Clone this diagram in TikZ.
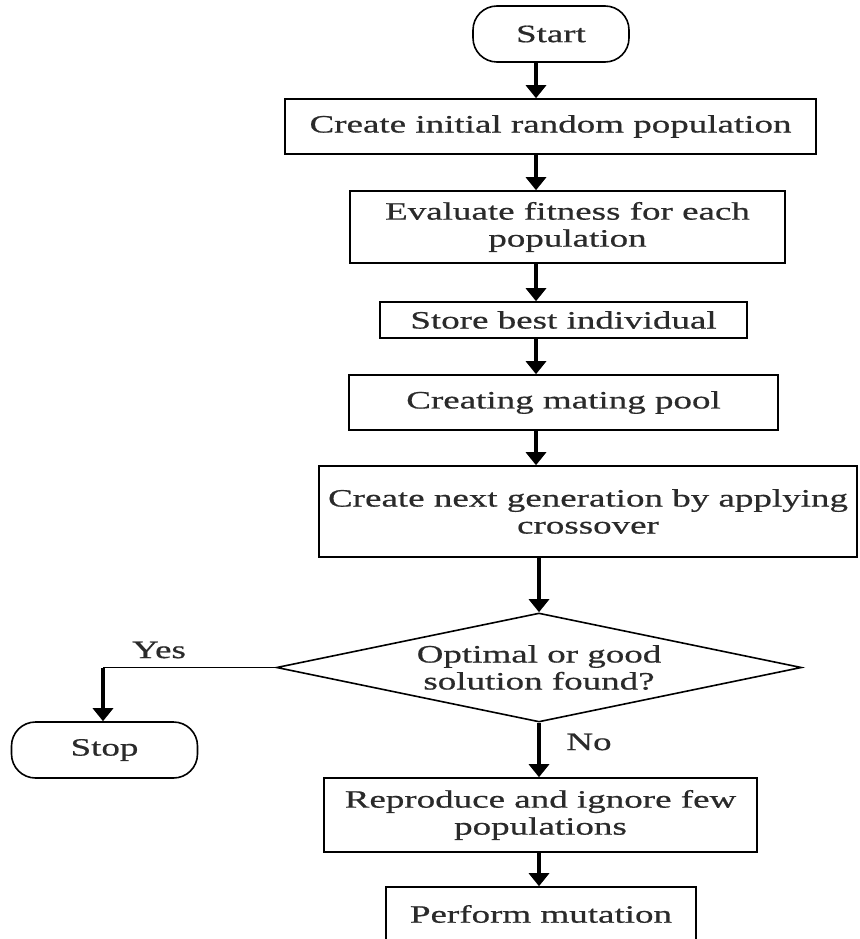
\documentclass[tikz,border=0pt]{standalone}
\usepackage{fontspec}
\setmainfont{Liberation Serif}[FakeStretch=1.48,FakeBold=0.6]
\usetikzlibrary{shapes.geometric,arrows.meta}
\definecolor{txt}{HTML}{2A2A2A}
\begin{document}
\begin{tikzpicture}[x=1pt,y=-1pt,
  every node/.style={font=\fontsize{25}{27}\selectfont, text=txt},
  box/.style={draw, line width=1.6pt, inner sep=0pt, align=center},
  term/.style={box, rounded corners=24pt},
  arr/.style={line width=4pt, -{Triangle[width=20pt,length=13pt]}},
  ln/.style={line width=1.6pt}]
\clip (0,0) rectangle (859,939);
\fill[white] (0,0) rectangle (859,939);
\coordinate (col) at (536,0);
\node[term, minimum width=156pt, minimum height=56pt] (start) at (551,34) {Start};
\node[box, minimum width=531pt, minimum height=55pt] (b1) at (550.5,126.5) {Create initial random population};
\node[box, minimum width=435pt, minimum height=72pt] (b2) at (567.5,227) {Evaluate fitness for each\\population};
\node[box, minimum width=367pt, minimum height=36pt] (b3) at (563.5,320) {Store best individual};
\node[box, minimum width=429pt, minimum height=55pt] (b4) at (563.5,402.5) {Creating mating pool};
\node[box, minimum width=538pt, minimum height=91pt] (b5) at (588,511.5) {Create next generation by applying\\crossover};
\node[box, diamond, aspect=4.8, minimum width=525pt, minimum height=109pt] (dia) at (539,667.5) {Optimal or good\\solution found?};
\node[term, minimum width=186pt, minimum height=56pt] (stop) at (104.5,750) {Stop};
\node[box, minimum width=433pt, minimum height=74pt] (b6) at (540.5,815) {Reproduce and ignore few\\populations};
\node[box, minimum width=310pt, minimum height=54pt] (b7) at (541,914) {Perform mutation};
\node (yes) at (159,650) {Yes};
\node (no) at (589,742) {No};
\draw[arr] (start.south -| col) -- (b1.north -| col);
\draw[arr] (b1.south -| col) -- (b2.north -| col);
\draw[arr] (b2.south -| col) -- (b3.north -| col);
\draw[arr] (b3.south -| col) -- (b4.north -| col);
\draw[arr] (b4.south -| col) -- (b5.north -| col);
\draw[arr] (b5.south -| dia.north) -- (dia.north);
\draw[arr] (dia.south) -- (b6.north -| dia.south);
\draw[arr] (b6.south -| dia.south) -- (b7.north -| dia.south);
\coordinate (yc) at (103,667.5);
\draw[ln] (dia.west) -- (yc);
\draw[arr] ([yshift=-0.8pt]yc) -- (stop.north -| yc);
\end{tikzpicture}
\end{document}
